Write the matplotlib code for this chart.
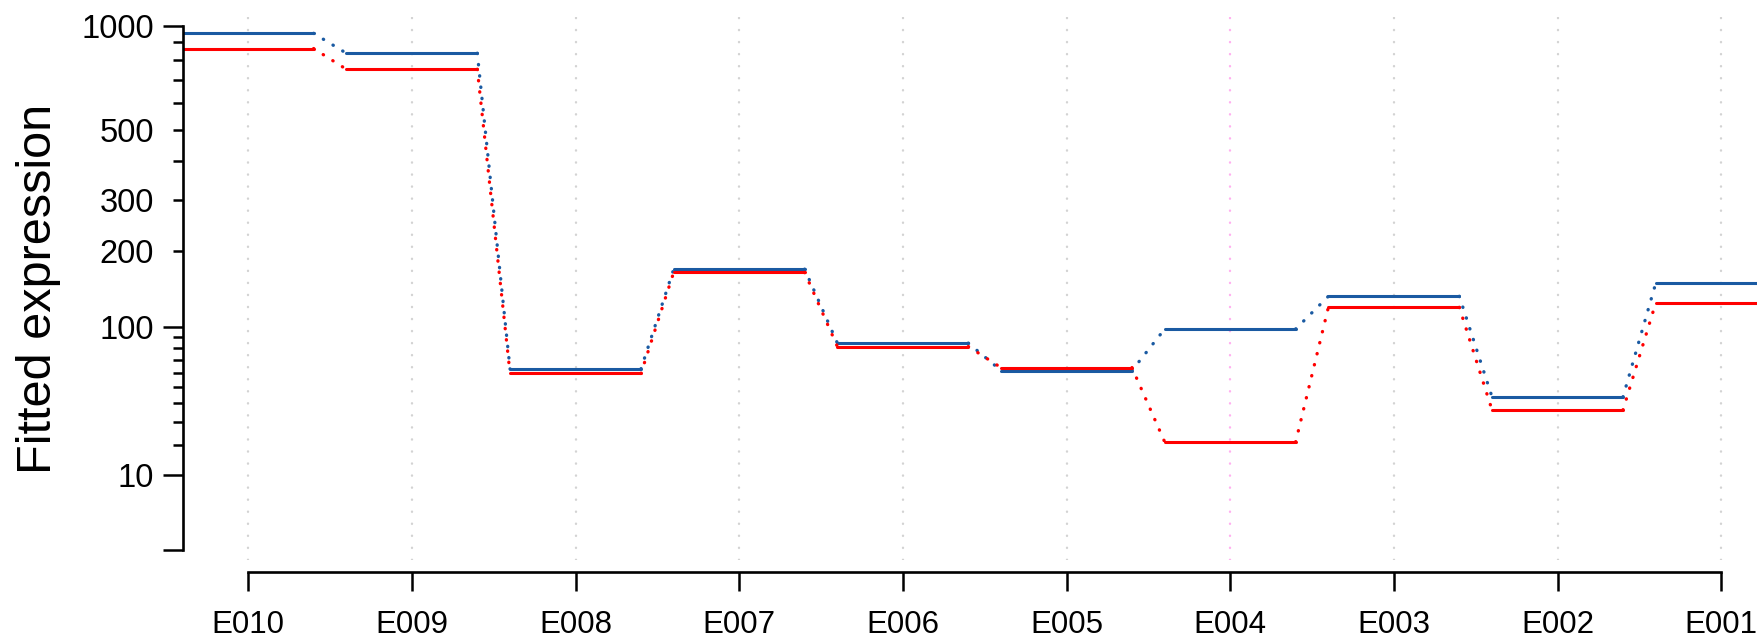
import matplotlib
matplotlib.use("Agg")
import matplotlib.pyplot as plt
import numpy as np
from matplotlib.ticker import FixedLocator, FixedFormatter

plt.rcParams['font.family'] = ['Liberation Sans', 'DejaVu Sans']

# fitted expression per exon, two conditions
exons = ["E010", "E009", "E008", "E007", "E006", "E005", "E004", "E003", "E002", "E001"]
fit_blue = [954, 838, 62.8, 171.7, 84.3, 61.6, 97.8, 134.6, 43.7, 151.5]
fit_red = [864, 754, 59.4, 166.9, 81.2, 63.8, 21.1, 121.3, 36.2, 126.3]
highlight = "E004"

major_ticks = [0, 10, 100, 1000]
major_labels = ["", "10", "100", "1000"]
minor_ticks = [20, 30, 40, 50, 60, 70, 80, 90, 200, 300, 400, 500, 600, 700, 800, 900]
minor_labels = ["", "", "", "", "", "", "", "", "200", "300", "", "500", "", "", "", ""]

BLUE = "#1a5aa2"
RED = "#ff0000"


# variance-stabilising style axis (asinh of sqrt)
def fwd(x):
    x = np.asarray(x, dtype=float)
    return np.sign(x) * np.arcsinh(np.sqrt(np.abs(x) / 200.0))


def inv(y):
    y = np.asarray(y, dtype=float)
    return np.sign(y) * 200.0 * np.sinh(y) ** 2


W, H = 1758, 644
fig = plt.figure(figsize=(W / 100, H / 100), dpi=100)
ax = fig.add_axes([182.7 / W, 84 / H, (W - 182.7) / W, 543 / H])
ax.set_yscale("function", functions=(fwd, inv))

x = np.arange(len(exons))

for i, e in enumerate(exons):
    col = "#ffb0f0" if e == highlight else "#d3d3d3"
    ax.axvline(i, color=col, lw=1.7, ls=(0, (0.1, 5)), dash_capstyle="round", zorder=0)

for vals, col in [(fit_blue, BLUE), (fit_red, RED)]:
    ax.hlines(vals, x - 0.4, x + 0.4, colors=col, lw=2.2, capstyle="round", zorder=2)
    for i in range(len(vals) - 1):
        ax.plot([i + 0.4, i + 0.6], [vals[i], vals[i + 1]], color=col, lw=2.4,
                ls=(0, (0.1, 3.3)), dash_capstyle="round", zorder=2)

ax.set_xlim(-0.4, 9.225)
ax.set_ylim(-0.16, 1060)

for s in ["top", "right"]:
    ax.spines[s].set_visible(False)
ax.spines["left"].set_bounds(0, 1000)
ax.spines["left"].set_linewidth(1.9)
ax.spines["bottom"].set_position(("outward", 8.6))
ax.spines["bottom"].set_bounds(0, 9)
ax.spines["bottom"].set_linewidth(1.9)

ax.set_xticks(x, exons)
ax.tick_params(axis="x", length=13.7, width=1.8, pad=14, labelsize=22.5)

ax.yaxis.set_major_locator(FixedLocator(major_ticks))
ax.yaxis.set_major_formatter(FixedFormatter(major_labels))
ax.yaxis.set_minor_locator(FixedLocator(minor_ticks))
ax.yaxis.set_minor_formatter(FixedFormatter(minor_labels))
ax.tick_params(axis="y", which="major", length=14.4, width=1.8, pad=6.5, labelsize=23.5)
ax.tick_params(axis="y", which="minor", length=7.2, width=1.8, pad=6.5 + 7.2, labelsize=23.5)

ax.set_ylabel("Fitted expression", fontsize=35, va="center")
ax.yaxis.set_label_coords((39 - 182.7) / (W - 182.7), 0.5)

fig.savefig("out.png", dpi=100)
